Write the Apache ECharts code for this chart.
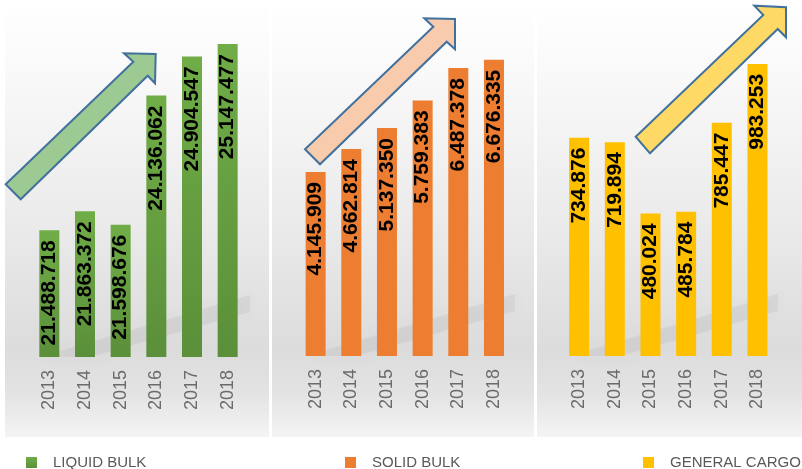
<!DOCTYPE html>
<html>
<head>
<meta charset="utf-8">
<script src="https://cdn.jsdelivr.net/npm/echarts@6/dist/echarts.min.js"></script>
<style>
html, body { margin: 0; padding: 0; background: #ffffff; }
#main { width: 802px; height: 469px; }
</style>
</head>
<body>
<div id="main"></div>
<script>
var years = ['2013', '2014', '2015', '2016', '2017', '2018']
var liquidBulk = [21488718, 21863372, 21598676, 24136062, 24904547, 25147477]
var solidBulk = [4145909, 4662814, 5137350, 5759383, 6487378, 6676335]
var generalCargo = [734876, 719894, 480024, 485784, 785447, 983253]
var seriesNames = ['LIQUID BULK', 'SOLID BULK', 'GENERAL CARGO']

var chart = echarts.init(document.getElementById('main'))

// dots as thousand separators, like the source
function fmt(v) {
  return String(v).replace(/\B(?=(\d{3})+(?!\d))/g, '.')
}

function panelBg(x, w) {
  return {
    type: 'rect',
    z: -10,
    shape: { x: x, y: 0, width: w, height: 437 },
    style: {
      fill: {
        type: 'linear', x: 0, y: 0, x2: 0, y2: 1,
        colorStops: [
          { offset: 0, color: '#ffffff' },
          { offset: 0.12, color: '#fbfbfb' },
          { offset: 0.5, color: '#ebebeb' },
          { offset: 0.8, color: '#dcdcdc' },
          { offset: 0.9, color: '#e3e3e3' },
          { offset: 1, color: '#f4f4f4' }
        ]
      }
    }
  }
}

// soft floor reflection behind the bars
function streak(x0, x1, y0) {
  return {
    type: 'polygon',
    z: -5,
    shape: { points: [[x0, y0], [x1, y0 - 62], [x1, y0 - 45], [x0 + 50, y0]] },
    style: { fill: 'rgba(150,150,150,0.13)', shadowBlur: 14, shadowColor: 'rgba(130,130,130,0.35)' }
  }
}

function arrow(points, fill) {
  return {
    type: 'polygon',
    z: 10,
    shape: { points: points },
    style: { fill: fill, stroke: '#41719c', lineWidth: 2 }
  }
}

function xAxisFor(i) {
  return {
    type: 'category',
    gridIndex: i,
    data: years,
    axisLine: { show: false },
    axisTick: { show: false },
    axisLabel: {
      rotate: 90,
      margin: 13,
      color: '#6b6b6b',
      fontSize: 18,
      fontFamily: 'Liberation Sans'
    }
  }
}

function yAxisFor(i, min, max) {
  return { type: 'value', gridIndex: i, min: min, max: max, show: false, splitLine: { show: false } }
}

function barSeries(i, data, color) {
  return {
    name: seriesNames[i],
    type: 'bar',
    xAxisIndex: i,
    yAxisIndex: i,
    data: data,
    barWidth: 20,
    itemStyle: { color: color },
    label: {
      show: true,
      position: 'insideTop',
      rotate: 90,
      align: 'right',
      verticalAlign: 'middle',
      distance: 10,
      color: '#000000',
      fontSize: 21,
      fontWeight: 'bold',
      fontFamily: 'Liberation Sans',
      formatter: function(p) { return fmt(p.value) }
    }
  }
}

function legendFor(i, left) {
  return {
    data: [seriesNames[i]],
    left: left,
    top: 450,
    itemWidth: 11,
    itemHeight: 11,
    icon: 'rect',
    textStyle: {
      color: '#595959',
      fontSize: 15,
      fontFamily: 'Liberation Sans',
      padding: [0, 0, 0, 11]
    }
  }
}

var option = {
  backgroundColor: '#ffffff',
  animation: false,
  grid: [
    { left: 31.5, width: 214, top: 20, bottom: 112 },
    { left: 297.8, width: 214, top: 20, bottom: 113 },
    { left: 561.3, width: 214, top: 20, bottom: 113 }
  ],
  xAxis: [xAxisFor(0), xAxisFor(1), xAxisFor(2)],
  yAxis: [
    yAxisFor(0, 19000000, 25620000),
    yAxisFor(1, 0, 7571000),
    yAxisFor(2, 0, 1131000)
  ],
  legend: [legendFor(0, 21), legendFor(1, 340), legendFor(2, 638)],
  series: [
    barSeries(0, liquidBulk, {
      type: 'linear', x: 0, y: 0, x2: 0, y2: 1,
      colorStops: [{ offset: 0, color: '#70ad47' }, { offset: 1, color: '#5b8f3a' }]
    }),
    barSeries(1, solidBulk, '#ed7d31'),
    barSeries(2, generalCargo, '#ffc000')
  ],
  graphic: [
    panelBg(5, 264),
    panelBg(272, 262),
    panelBg(537, 265),
    streak(40, 250, 357),
    streak(306, 515, 356),
    streak(570, 778, 356),
    arrow([[5.7, 184.3], [133.3, 61.7], [124, 53.3], [155.7, 54], [155, 83.3], [147.7, 75.7], [20.7, 199.3]], '#9dca93'),
    arrow([[305, 149.3], [433.3, 26.7], [424.3, 18.3], [455, 19], [455, 49.3], [446.7, 41.7], [320, 164.3]], '#f8cbad'),
    arrow([[635.7, 136.7], [763.3, 15], [754.3, 5.7], [786, 7.3], [786, 37.3], [777.7, 29], [650, 153.3]], '#ffd966')
  ]
}

chart.setOption(option)
</script>
</body>
</html>
